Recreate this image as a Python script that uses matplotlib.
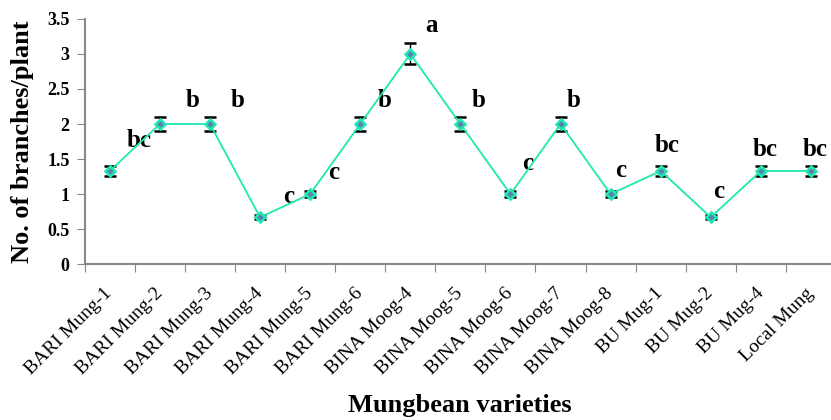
#!/usr/bin/env python3
''' Number of branches per plant across mungbean varieties
'''

import numpy as np
import matplotlib
matplotlib.use('Agg')
from matplotlib import pyplot

#
# data
#

varieties = ['BARI Mung-1', 'BARI Mung-2', 'BARI Mung-3', 'BARI Mung-4',
             'BARI Mung-5', 'BARI Mung-6', 'BINA Moog-4', 'BINA Moog-5',
             'BINA Moog-6', 'BINA Moog-7', 'BINA Moog-8', 'BU Mug-1',
             'BU Mug-2', 'BU Mug-4', 'Local Mung']
branches = [1.33, 2.0, 2.0, 0.67, 1.0, 2.0, 3.0, 2.0, 1.0, 2.0, 1.0,
            1.33, 0.67, 1.33, 1.33]
errors = [0.07, 0.1, 0.1, 0.03, 0.04, 0.1, 0.15, 0.1, 0.04, 0.1, 0.04,
          0.07, 0.03, 0.07, 0.07]

# significance letters and where they sit (data coords)
letters = ['bc', 'b', 'b', 'c', 'c', 'b', 'a', 'b', 'c', 'b', 'c',
           'bc', 'c', 'bc', 'bc']
letter_x = [0.58, 1.65, 2.55, 3.57, 4.48, 5.48, 6.43, 7.37, 8.35, 9.26,
            10.2, 11.13, 12.15, 13.09, 14.08]
letter_y = [1.77, 2.34, 2.34, 0.97, 1.31, 2.34, 3.41, 2.34, 1.44, 2.34,
            1.34, 1.69, 1.03, 1.63, 1.63]

#
# plot
#

pyplot.rcParams['font.family'] = ['Liberation Serif', 'DejaVu Serif']

fig = pyplot.figure(figsize=(8.31, 4.2), dpi=100)
ax = fig.add_axes([0.102, 0.371, 0.904, 0.584])

x = np.arange(len(varieties))
ax.errorbar(x, branches, yerr=errors, color='#1de9b0', lw=1.3,
            ecolor='black', elinewidth=1, capsize=4, capthick=1,
            marker='D', ms=5.5, mfc='#5f7fb2', mec='#1de9b0', mew=1.8,
            zorder=3)

for lx, ly, t in zip(letter_x, letter_y, letters):
    ax.text(lx, ly, t, ha='center', va='center', fontsize=18,
            fontweight='bold')

ax.set_xlim(-0.5, len(varieties) - 0.5)
ax.set_ylim(0, 3.5)
ax.set_yticks(np.arange(0, 3.6, 0.5))
ax.set_yticklabels(['0', '0.5', '1', '1.5', '2', '2.5', '3', '3.5'],
                   fontweight='bold', fontsize=13)
ax.set_xticks(x - 0.5, minor=False)
ax.set_xticks(x, minor=True)
ax.set_xticklabels([])
ax.set_xticklabels(varieties, minor=True, rotation=45, ha='right',
                   va='center', rotation_mode='anchor', fontsize=14)
ax.tick_params(axis='x', which='minor', length=0, pad=19)
ax.tick_params(axis='x', which='major', length=6, color='#888888')
ax.tick_params(axis='y', length=6, color='#888888', pad=5)

for s in ['top', 'right']:
    ax.spines[s].set_visible(False)
for s in ['left', 'bottom']:
    ax.spines[s].set_color('#888888')
    ax.spines[s].set_linewidth(1.5)

fig.text(0.027, 0.663, 'No. of branches/plant', rotation=90, ha='center',
         va='center', fontsize=19, fontweight='bold')
fig.text(0.553, 0.035, 'Mungbean varieties', ha='center', va='center',
         fontsize=19, fontweight='bold')

fig.savefig('out.png', dpi=100)
